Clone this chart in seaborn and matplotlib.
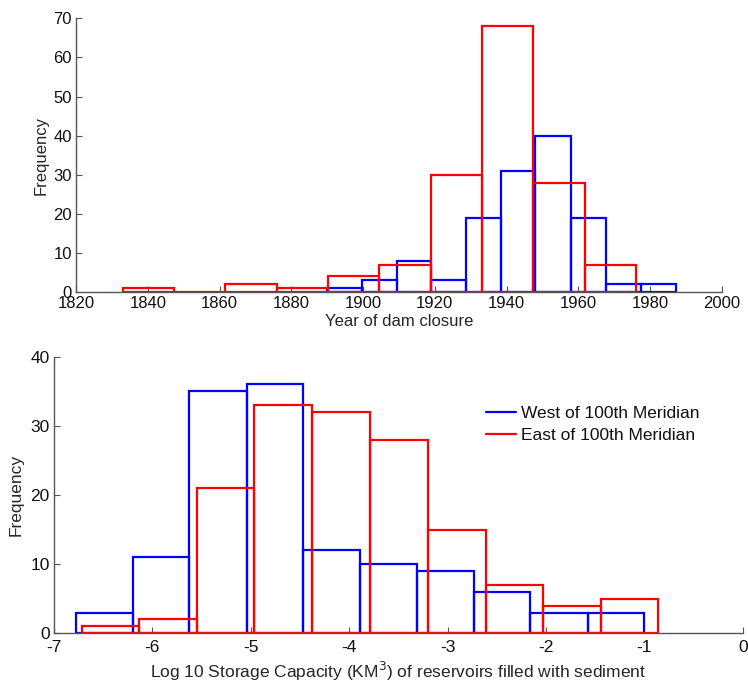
import numpy as np
import pandas as pd
import matplotlib
matplotlib.use("Agg")
import matplotlib.pyplot as plt
from matplotlib.lines import Line2D
import seaborn as sns

# year of dam closure: bin edges + counts
west_year_edges = [1890.0, 1899.7, 1909.4, 1919.0, 1928.7, 1938.3, 1948.0, 1957.9, 1967.6, 1977.3, 1987.1]
west_year_counts = [1, 3, 8, 3, 19, 31, 40, 19, 2, 2]
east_year_edges = [1833.0, 1847.3, 1861.6, 1875.9, 1890.2, 1904.5, 1918.8, 1933.1, 1947.4, 1961.7, 1976.0]
east_year_counts = [1, 0, 2, 1, 4, 7, 30, 68, 28, 7]

# log10 storage capacity
west_cap_edges = [-6.776, -6.200, -5.625, -5.042, -4.466, -3.890, -3.314, -2.735, -2.160, -1.576, -1.001]
west_cap_counts = [3, 11, 35, 36, 12, 10, 9, 6, 3, 3]
east_cap_edges = [-6.720, -6.136, -5.550, -4.964, -4.375, -3.789, -3.202, -2.613, -2.027, -1.444, -0.859]
east_cap_counts = [1, 2, 21, 33, 32, 28, 15, 7, 4, 5]

labels = ['West of 100th Meridian', 'East of 100th Meridian']
colors = ['#0000ff', '#ff0000']

sns.set_style('ticks')
plt.rcParams['font.family'] = ['Liberation Sans', 'DejaVu Sans']
plt.rcParams['axes.unicode_minus'] = False

fig = plt.figure(figsize=(7.48, 6.81), dpi=100)
ax1 = fig.add_axes([0.1016, 0.5712, 0.8636, 0.4019])
ax2 = fig.add_axes([0.0722, 0.0700, 0.9207, 0.4062])


def outline_hist(ax, edges, counts, color):
    e = np.asarray(edges)
    df = pd.DataFrame({'val': (e[:-1] + e[1:]) / 2, 'n': counts})
    sns.histplot(data=df, x='val', weights='n', bins=list(edges), element='bars',
                 fill=False, color=color, linewidth=1.6, ax=ax)


outline_hist(ax1, west_year_edges, west_year_counts, colors[0])
outline_hist(ax1, east_year_edges, east_year_counts, colors[1])
outline_hist(ax2, west_cap_edges, west_cap_counts, colors[0])
outline_hist(ax2, east_cap_edges, east_cap_counts, colors[1])

ax1.set_xlim(1820, 2000)
ax1.set_ylim(0, 70)
ax1.set_xticks(range(1820, 2001, 20))
ax1.set_yticks(range(0, 71, 10))
ax1.set_xlabel('Year of dam closure', fontsize=12, labelpad=2)
ax1.set_ylabel('Frequency', fontsize=12, labelpad=3)

ax2.set_xlim(-7, 0)
ax2.set_ylim(0, 40)
ax2.set_xticks(range(-7, 1))
ax2.set_yticks(range(0, 41, 10))
ax2.set_xlabel('Log 10 Storage Capacity (KM$^3$) of reservoirs filled with sediment',
               fontsize=12.5, labelpad=3)
ax2.set_ylabel('Frequency', fontsize=12.5, labelpad=5)

for ax, xpad, fs in [(ax1, 3, 12), (ax2, 5, 12.5)]:
    sns.despine(ax=ax)
    for s in ['left', 'bottom']:
        ax.spines[s].set_color('#555555')
        ax.spines[s].set_linewidth(1.0)
    ax.tick_params(direction='in', length=4.5, width=0.8, color='#555555',
                   labelsize=fs, labelcolor='#111111')
    ax.tick_params(axis='x', pad=xpad)
    ax.tick_params(axis='y', pad=3)

handles = [Line2D([], [], color=c, linewidth=1.6) for c in colors]
ax2.legend(handles, labels, loc='upper left', bbox_to_anchor=(0.627, 0.823),
           frameon=False, fontsize=12.5, handlelength=1.75, handletextpad=0.3,
           labelspacing=0.42, borderaxespad=0, borderpad=0, labelcolor='#111111')

fig.savefig('out.png', dpi=100)
